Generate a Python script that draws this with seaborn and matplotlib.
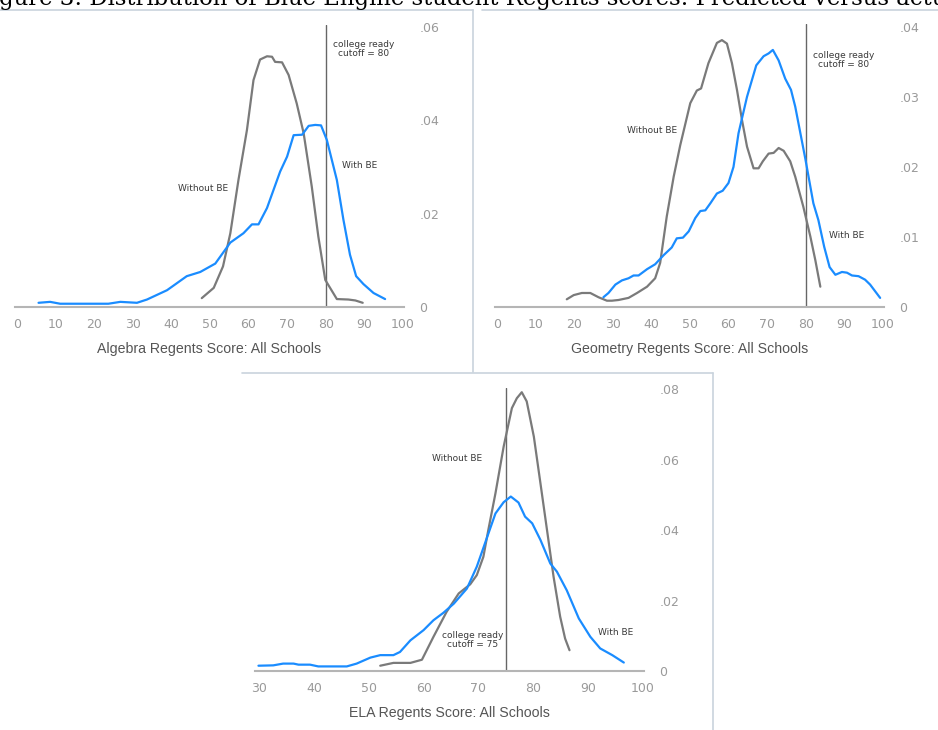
import numpy as np
import pandas as pd
import matplotlib.pyplot as plt
import seaborn as sns
from matplotlib.lines import Line2D
from matplotlib.ticker import FuncFormatter

# Algebra Regents score distributions
alg_with_x = [5.6, 8.6, 11.2, 23.7, 26.8, 31.1, 33.7, 38.9, 44.0, 47.5, 51.4, 55.3, 58.7,
              60.9, 62.6, 64.8, 68.2, 70.0, 71.7, 73.9, 75.6, 77.3, 78.8, 80.3, 82.9,
              84.6, 86.3, 87.9, 89.8, 92.4, 95.4]
alg_with_y = [0.0009, 0.0011, 0.0007, 0.0007, 0.0011, 0.0009, 0.0016, 0.0036, 0.0066,
              0.0075, 0.0093, 0.0138, 0.0158, 0.0177, 0.0177, 0.0212, 0.0290, 0.0322,
              0.0368, 0.0369, 0.0388, 0.0390, 0.0389, 0.0358, 0.0272, 0.0187, 0.0112,
              0.0066, 0.0049, 0.0030, 0.0017]
alg_without_x = [47.9, 51.0, 53.4, 55.3, 57.4, 59.6, 61.3, 63.0, 64.8, 66.1, 66.9, 68.7,
                 70.4, 72.5, 74.3, 76.4, 78.1, 79.9, 82.9, 85.9, 87.7, 89.6]
alg_without_y = [0.0019, 0.0041, 0.0087, 0.0158, 0.0272, 0.0379, 0.0486, 0.0530, 0.0537,
                 0.0536, 0.0525, 0.0524, 0.0497, 0.0436, 0.0372, 0.0258, 0.0151, 0.0058,
                 0.0017, 0.0016, 0.0014, 0.0009]

# Geometry Regents score distributions
geo_with_x = [27.6, 28.9, 30.7, 32.4, 34.1, 35.4, 36.7, 38.9, 41.0, 43.2, 45.3, 46.6,
              48.2, 49.7, 51.4, 52.7, 54.0, 55.3, 57.0, 58.5, 60.0, 61.3, 62.6, 64.8,
              67.2, 69.1, 70.4, 71.5, 73.0, 74.7, 76.2, 77.3, 79.9, 82.0, 83.3, 84.8,
              86.2, 87.7, 89.4, 90.7, 92.0, 93.7, 95.4, 96.7, 99.3]
geo_with_y = [0.0014, 0.0020, 0.0032, 0.0038, 0.0041, 0.0045, 0.0045, 0.0054, 0.0061,
              0.0074, 0.0085, 0.0098, 0.0099, 0.0108, 0.0127, 0.0137, 0.0138, 0.0148,
              0.0162, 0.0166, 0.0177, 0.0200, 0.0248, 0.0300, 0.0345, 0.0358, 0.0362,
              0.0367, 0.0352, 0.0326, 0.0310, 0.0286, 0.0212, 0.0148, 0.0124, 0.0086,
              0.0057, 0.0046, 0.0050, 0.0049, 0.0045, 0.0044, 0.0039, 0.0032, 0.0013]
geo_without_x = [18.1, 19.9, 22.0, 24.2, 26.3, 28.5, 29.8, 31.5, 34.1, 36.3, 38.9, 41.0,
                 42.3, 44.0, 45.8, 47.5, 50.1, 51.8, 52.9, 54.8, 57.0, 58.3, 59.6, 60.9,
                 62.2, 63.5, 64.8, 66.5, 67.8, 68.9, 70.4, 71.7, 73.0, 74.3, 76.0, 77.3,
                 79.4, 81.2, 82.5, 83.8]
geo_without_y = [0.0011, 0.0017, 0.0020, 0.0020, 0.0014, 0.0009, 0.0009, 0.0010, 0.0013,
                 0.0020, 0.0029, 0.0041, 0.0063, 0.0129, 0.0186, 0.0231, 0.0291, 0.0309,
                 0.0312, 0.0348, 0.0377, 0.0381, 0.0376, 0.0348, 0.0310, 0.0267, 0.0229,
                 0.0198, 0.0198, 0.0208, 0.0219, 0.0220, 0.0227, 0.0223, 0.0208, 0.0186,
                 0.0143, 0.0101, 0.0067, 0.0029]

# ELA Regents score distributions
ela_with_x = [29.9, 32.6, 34.4, 36.3, 37.2, 39.3, 40.8, 46.0, 47.8, 50.3, 52.1, 54.5,
              55.7, 57.6, 60.0, 61.8, 63.6, 65.5, 67.9, 69.7, 71.5, 73.1, 74.6, 75.9,
              77.3, 78.5, 79.8, 81.3, 83.1, 84.3, 86.1, 88.3, 90.4, 92.2, 94.4, 96.5]
ela_with_y = [0.0015, 0.0016, 0.0021, 0.0021, 0.0018, 0.0018, 0.0013, 0.0013, 0.0021,
              0.0038, 0.0045, 0.0045, 0.0054, 0.0087, 0.0116, 0.0144, 0.0165, 0.0191,
              0.0234, 0.0296, 0.0376, 0.0447, 0.0479, 0.0495, 0.0478, 0.0438, 0.0419,
              0.0372, 0.0305, 0.0282, 0.0229, 0.0149, 0.0097, 0.0064, 0.0045, 0.0024]
ela_without_x = [52.1, 54.5, 57.6, 59.7, 61.8, 64.2, 66.4, 68.5, 69.7, 70.9, 71.8, 73.1,
                 74.6, 76.1, 77.0, 77.9, 78.8, 80.1, 81.3, 82.5, 83.7, 84.9, 85.8, 86.6]
ela_without_y = [0.0015, 0.0023, 0.0023, 0.0032, 0.0097, 0.0168, 0.0220, 0.0246, 0.0272,
                 0.0324, 0.0400, 0.0504, 0.0637, 0.0746, 0.0774, 0.0791, 0.0765, 0.0665,
                 0.0533, 0.0400, 0.0267, 0.0154, 0.0092, 0.0059]

BLUE = "#1a8cff"
GRAY = "#7a7a7a"
W, H = 938, 730

sns.set_style("white")
plt.rcParams["font.family"] = ["Liberation Sans", "DejaVu Sans"]

fig = plt.figure(figsize=(W / 100, H / 100), dpi=100)


def make_ax(left, bottom, right, top):
    # pixel box -> figure fraction
    return fig.add_axes([left / W, 1 - bottom / H, (right - left) / W, (bottom - top) / H])


def style_ax(ax, xlim, ylim, xticks, yticks, xlabel, cutoff):
    ax.set_xlim(*xlim)
    ax.set_ylim(*ylim)
    ax.set_xticks(xticks)
    ax.set_yticks(yticks)
    ax.yaxis.tick_right()
    ax.yaxis.set_major_formatter(
        FuncFormatter(lambda v, p: "0" if v == 0 else f"{v:.2f}".lstrip("0")))
    ax.tick_params(axis="both", length=0, labelsize=9, labelcolor="#9a9a9a")
    ax.tick_params(axis="x", pad=8)
    ax.tick_params(axis="y", pad=11)
    for lab in ax.get_xticklabels() + ax.get_yticklabels():
        lab.set_family("DejaVu Sans")
    for lab in ax.get_yticklabels():
        lab.set_horizontalalignment("left")
    for s in ["top", "left", "right"]:
        ax.spines[s].set_visible(False)
    ax.spines["bottom"].set_color("#b5b5b5")
    ax.spines["bottom"].set_linewidth(1.5)
    ax.axvline(cutoff, color="#666666", lw=1, zorder=1)
    ax.set_xlabel(xlabel, fontsize=10.2, color="#555555", labelpad=8)
    ax.set_ylabel("")
    ax.patch.set_alpha(0)


def draw(ax, wx, wy, wox, woy):
    sns.lineplot(x=wox, y=woy, color=GRAY, lw=1.6, ax=ax, zorder=3)
    sns.lineplot(x=wx, y=wy, color=BLUE, lw=1.6, ax=ax, zorder=4)


note = dict(fontsize=6.5, color="#3a3a3a", family="DejaVu Sans", ha="center", va="center")

# Algebra
ax1 = make_ax(15, 307, 404, 25)
draw(ax1, alg_with_x, alg_with_y, alg_without_x, alg_without_y)
style_ax(ax1, (-0.5, 100.3), (0, 0.0604), range(0, 101, 10), [0, 0.02, 0.04, 0.06],
         "Algebra Regents Score: All Schools", 80)
ax1.text(48.2, 0.0253, "Without BE", **note)
ax1.text(88.9, 0.0303, "With BE", **note)
ax1.text(89.8, 0.0552, "college ready\ncutoff = 80", linespacing=1.0, **note)

# Geometry
ax2 = make_ax(495, 307, 884, 24)
draw(ax2, geo_with_x, geo_with_y, geo_without_x, geo_without_y)
style_ax(ax2, (-0.5, 100.3), (0, 0.0404), range(0, 101, 10), [0, 0.01, 0.02, 0.03, 0.04],
         "Geometry Regents Score: All Schools", 80)
ax2.text(40.2, 0.0252, "Without BE", **note)
ax2.text(90.7, 0.0102, "With BE", **note)
ax2.text(89.8, 0.0352, "college ready\ncutoff = 80", linespacing=1.0, **note)

# ELA
ax3 = make_ax(255, 671, 644, 388)
draw(ax3, ela_with_x, ela_with_y, ela_without_x, ela_without_y)
style_ax(ax3, (29.27, 100.18), (0, 0.0803), range(30, 101, 10), [0, 0.02, 0.04, 0.06, 0.08],
         "ELA Regents Score: All Schools", 75)
ax3.text(66.1, 0.0604, "Without BE", **note)
ax3.text(95.0, 0.0108, "With BE", **note)
ax3.text(68.9, 0.0087, "college ready\ncutoff = 75", linespacing=1.0, **note)

# panel borders
border = "#c9d3dd"
for xs, ys in [((0, 473), (10, 10)), ((473, 473), (10, 372)), ((482, 938), (10, 10)),
               ((242, 713), (373, 373)), ((713, 713), (373, 730))]:
    fig.add_artist(Line2D([x / W for x in xs], [1 - y / H for y in ys],
                          color=border, lw=1.2, transform=fig.transFigure))

# clipped caption above the panels
fig.text(-24 / W, 1 - 5 / H, "Figure 3: Distribution of Blue Engine student Regents scores: Predicted versus actual",
         fontsize=16.4, family="DejaVu Serif", color="black", ha="left", va="baseline")

fig.savefig("out.png", dpi=100)
